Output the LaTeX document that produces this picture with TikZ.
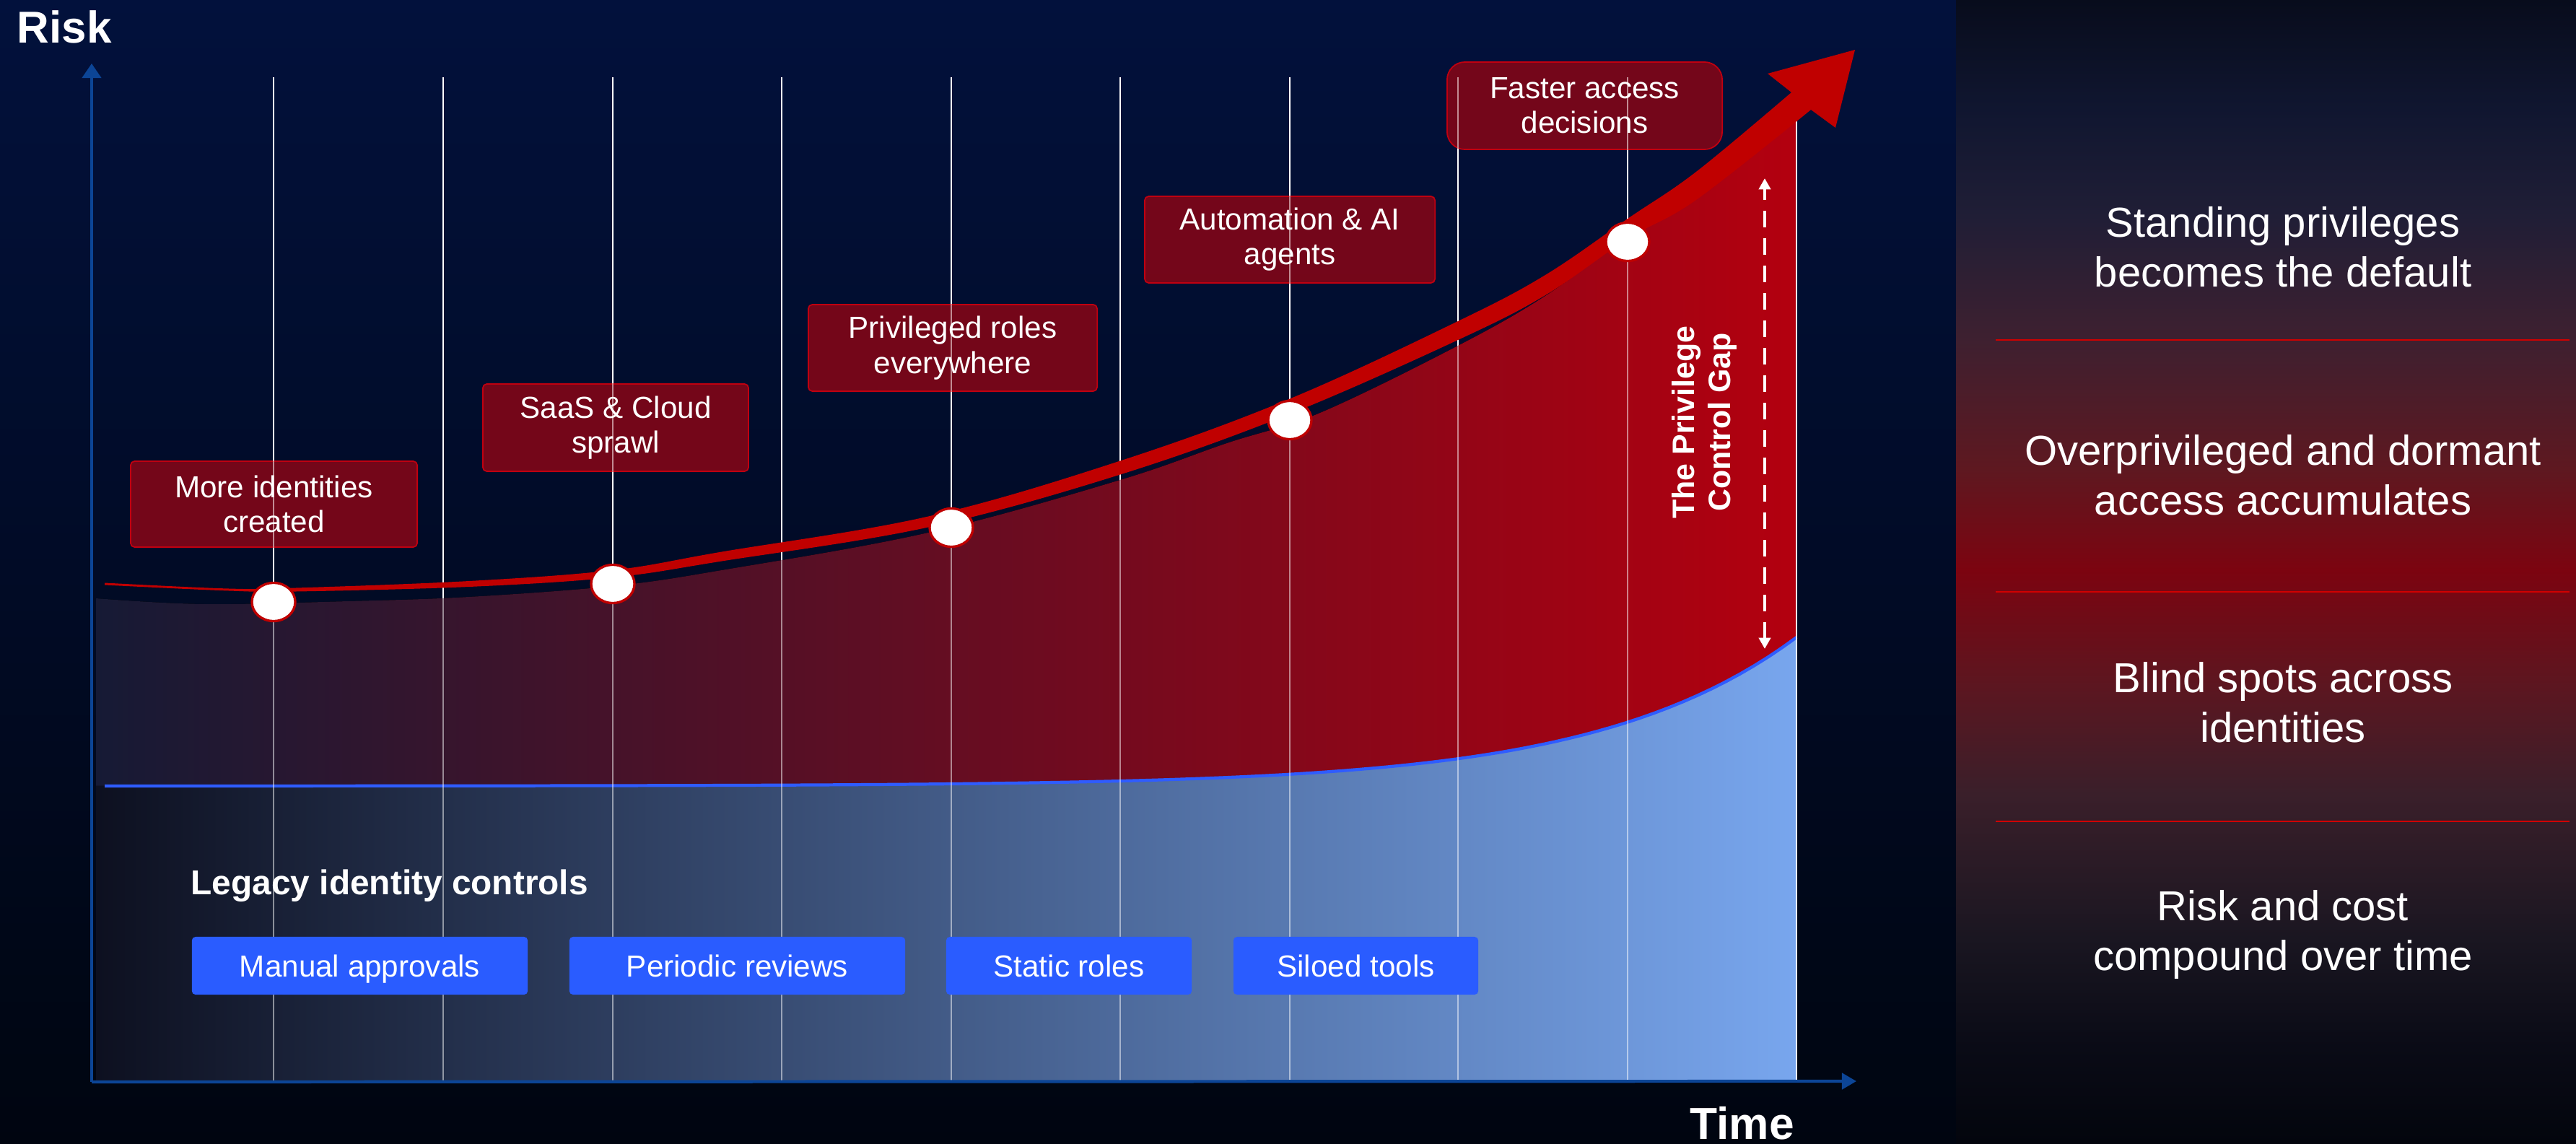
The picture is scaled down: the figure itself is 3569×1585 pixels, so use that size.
\documentclass[tikz,border=0pt]{standalone}
\usepackage{fontspec}
\setmainfont{Liberation Sans}
\usetikzlibrary{arrows.meta,shapes.geometric}
\definecolor{bgtop}{HTML}{02113C}
\definecolor{bgbot}{HTML}{000510}
\definecolor{bandred}{HTML}{C00000}
\definecolor{boxred}{HTML}{7E0618}
\definecolor{boxedge}{HTML}{C00010}
\definecolor{btnblue}{HTML}{2A5CFF}
\definecolor{axisblue}{HTML}{0C4596}
\definecolor{lineblue}{HTML}{2F5CFF}
\definecolor{redL}{HTML}{161A35}
\definecolor{redM}{HTML}{7A0A20}
\definecolor{redR}{HTML}{B3000F}
\definecolor{bluL}{HTML}{0D1020}
\definecolor{bluR}{HTML}{78A6EE}
\definecolor{sepred}{HTML}{D00000}
\definecolor{pA}{HTML}{03050D}
\definecolor{pB}{HTML}{0A0B16}
\definecolor{pC}{HTML}{1A1621}
\definecolor{pD}{HTML}{3A1F2A}
\definecolor{pE}{HTML}{5C1620}
\definecolor{pF}{HTML}{7C0410}
\definecolor{pG}{HTML}{5E1820}
\definecolor{pH}{HTML}{3E2030}
\definecolor{pI}{HTML}{201E36}
\definecolor{pJ}{HTML}{101630}
\definecolor{pK}{HTML}{080C1C}
\pgfdeclareverticalshading{panelshade}{100bp}{color(0bp)=(pA); color(25bp)=(pA); color(29.26bp)=(pB); color(33.99bp)=(pC); color(40.3bp)=(pD); color(45.03bp)=(pE); color(50.08bp)=(pF); color(54.5bp)=(pG); color(60.17bp)=(pH); color(65.54bp)=(pI); color(70.27bp)=(pJ); color(75bp)=(pK); color(100bp)=(pK)}
\tikzset{
  gridline/.style={white, line width=0.6pt},
  lbl/.style={draw=boxedge, line width=0.5pt, fill=boxred, fill opacity=0.92, text opacity=1, text=white, align=center, font=\fontsize{12}{13.7}\selectfont, inner sep=0pt, rounded corners=1.6pt},
  btn/.style={fill=btnblue, text=white, font=\fontsize{12}{14}\selectfont, inner sep=0pt, minimum height=0.8cm, text height=8.6pt, text depth=0pt, rounded corners=1.4pt},
  dot/.style={ellipse, draw=bandred, line width=0.95pt, fill=white, minimum width=0.6cm, minimum height=0.53cm, inner sep=0pt},
  side/.style={text=white, align=center, font=\fontsize{16.5}{19.6}\selectfont, inner sep=0pt},
  axisline/.style={axisblue, line width=1.2pt},
  sepline/.style={sepred, line width=0.6pt}
}
\begin{document}
\begin{tikzpicture}[x=0.01cm, y=-0.01cm]
\useasboundingbox (0,0) rectangle (3569,1585);
% backgrounds
\shade[top color=bgtop, bottom color=bgbot] (0,0) rectangle (3569,1585);
\shade[shading=panelshade] (2710,0) rectangle (3569,1585);
% grid lines, first pass
\foreach \gx in {379,614,849,1083,1318,1552,1787,2020,2255}{
  \draw[gridline] (\gx,107) -- (\gx,1498);
}
% red area
\fill[left color=redL, middle color=redM, right color=redR]
  plot[smooth, tension=0.6] coordinates {(133,829) (283,837) (483,833) (650,827) (849,812) (1000,790) (1286,738) (1552,665) (1700,614) (1829,572) (2020,479) (2141,410) (2255,328) (2350,272) (2489,162)}
  -- (2489,883)
  -- plot[domain=2489:133, samples=120] (\x,{1089-206*exp(0.00362*(\x-2489))})
  -- cycle;
% blue area
\fill[left color=bluL, right color=bluR]
  plot[domain=133:2489, samples=120] (\x,{1089-206*exp(0.00362*(\x-2489))})
  -- (2489,1498) -- (133,1498) -- cycle;
\draw[lineblue, line width=1.2pt] plot[domain=145:2489, samples=120] (\x,{1089-206*exp(0.00362*(\x-2489))});
% milestone labels
\node[lbl, minimum width=3.97cm, minimum height=1.19cm] (b1) at (379.5,698.5) {More identities\\created};
\node[lbl, minimum width=3.68cm, minimum height=1.21cm] (b2) at (853,592.5) {SaaS \& Cloud\\sprawl};
\node[lbl, minimum width=4.00cm, minimum height=1.20cm] (b3) at (1320,482) {Privileged roles\\everywhere};
\node[lbl, minimum width=4.02cm, minimum height=1.20cm] (b4) at (1787,332) {Automation \& AI\\agents};
\node[lbl, minimum width=3.81cm, minimum height=1.21cm, rounded corners=7pt] (b5) at (2195.5,146.5) {Faster access\\decisions};
% grid lines, second pass
\foreach \gx in {379,614,849,1083,1318,1552,1787,2020,2255}{
  \draw[gridline, draw opacity=0.5] (\gx,107) -- (\gx,1498);
}
\draw[gridline] (2489,107) -- (2489,1498);
% control buttons
\node[anchor=base west, inner sep=0pt, text=white, font=\bfseries\fontsize{13.6}{16}\selectfont] (legacy) at (264,1239) {Legacy identity controls};
\node[btn, minimum width=4.65cm] (c1) at (498.5,1338) {Manual approvals};
\node[btn, minimum width=4.65cm] (c2) at (1021.5,1338) {Periodic reviews};
\node[btn, minimum width=3.40cm] (c3) at (1481,1338) {Static roles};
\node[btn, minimum width=3.39cm] (c4) at (1878.5,1338) {Siloed tools};
% risk arrow
\fill[bandred]
  plot[smooth, tension=0.6] coordinates {(145,807.5) (317,815.5) (410,814.5) (650,805) (849,790) (1000,764.5) (1286,715.5) (1552,638.5) (1787,552.5) (2020,445) (2141,381) (2255,303) (2350,238) (2482,128)}
  -- (2449,102) -- (2570,69) -- (2543,177)
  -- plot[smooth, tension=0.6] coordinates {(2509,152) (2350,277) (2255,331) (2141,409) (2020,471) (1787,573.5) (1552,657.5) (1286,730.5) (1000,777.5) (849,800) (650,813) (410,819.5) (317,818.5) (145,810.5)}
  -- cycle;
% markers
\node[dot] (m1) at (379,834) {};
\node[dot] (m2) at (849,809) {};
\node[dot] (m3) at (1318,731) {};
\node[dot] (m4) at (1787,582) {};
\node[dot] (m5) at (2255,335) {};
% gap
\coordinate (gt) at (2445,247);
\coordinate (gb) at (2445,899);
\draw[white, line width=1.1pt, dash pattern=on 6.5pt off 4.3pt, {Triangle[width=4.6pt,length=4.4pt]}-{Triangle[width=4.6pt,length=4.4pt]}] (gb) -- (gt);
\node[rotate=90, align=center, text=white, inner sep=0pt, font=\bfseries\fontsize{12.2}{14.2}\selectfont] (gap) at (2361,585) {The Privilege\\Control Gap};
% axes
\coordinate (O) at (127,1499);
\coordinate (ytip) at (127,88);
\coordinate (xtip) at (2572,1498);
\draw[axisline, -{Triangle[width=7.4pt,length=5.7pt]}] (O) -- (ytip);
\draw[axisline, -{Triangle[width=6.3pt,length=5.7pt]}] (O) -- (xtip);
\node[anchor=base west, inner sep=0pt, text=white, font=\bfseries\fontsize{17.6}{20}\selectfont] (risk) at (23,60) {Risk};
\node[anchor=base west, inner sep=0pt, text=white, font=\bfseries\fontsize{17.7}{20}\selectfont] (time) at (2341,1578) {Time};
% right panel
\node[side] (s1) at (3163,342.5) {Standing privileges\\becomes the default};
\draw[sepline] (2765,471) -- (3560,471);
\node[side] (s2) at (3163,658) {Overprivileged and dormant\\access accumulates};
\draw[sepline] (2765,820) -- (3560,820);
\node[side] (s3) at (3163,973.5) {Blind spots across\\identities};
\draw[sepline] (2765,1138) -- (3560,1138);
\node[side] (s4) at (3163,1295) {Risk and cost\\compound over time};
\end{tikzpicture}
\end{document}
